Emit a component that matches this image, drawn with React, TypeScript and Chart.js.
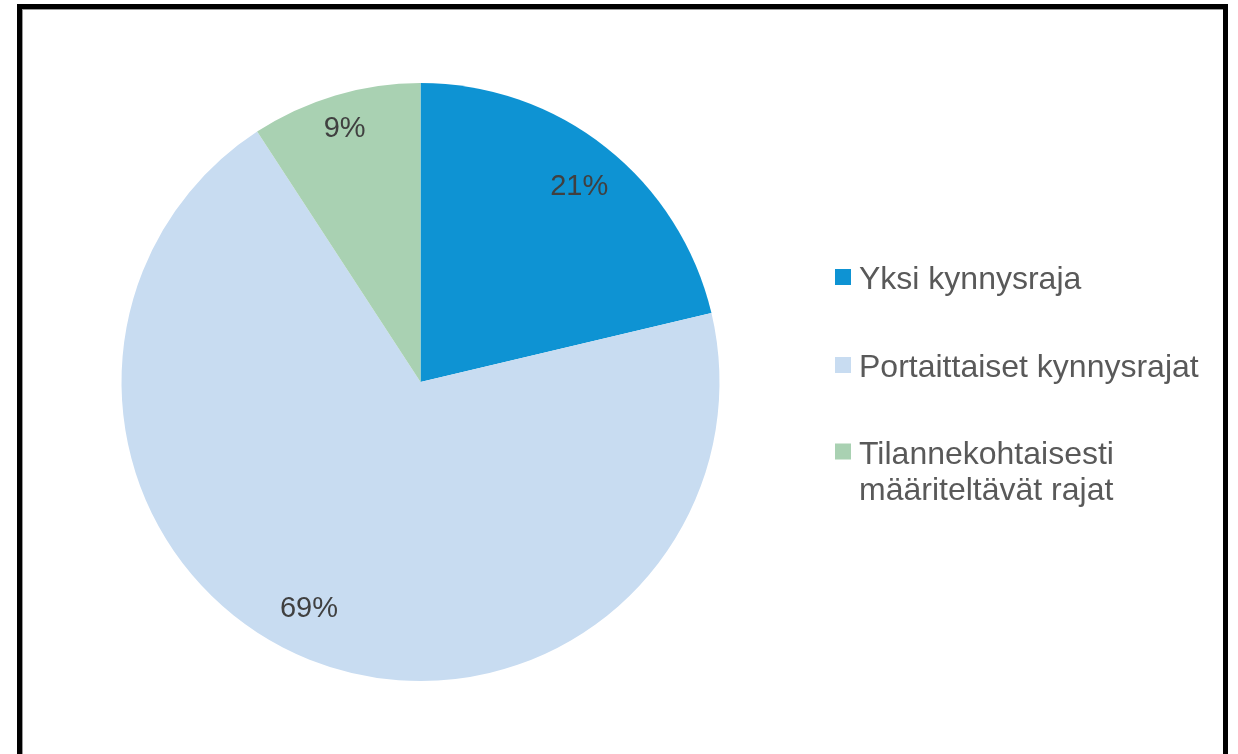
import React, { useEffect, useRef } from "react";
import { Chart, registerables } from "chart.js";

Chart.register(...registerables);

const categories: string[][] = [
  ["Yksi kynnysraja"],
  ["Portaittaiset kynnysrajat"],
  ["Tilannekohtaisesti", "määriteltävät rajat"],
];
const values: number[] = [21.3, 69.5, 9.2];
const valueLabels: string[] = ["21%", "69%", "9%"];
const colors: string[] = ["#0E93D3", "#C8DCF1", "#A9D1B2"];

const FONT = '"Liberation Sans", Arial, sans-serif';

const drawPlugin = {
  id: "customDraw",
  afterDraw(chart: any) {
    const ctx = chart.ctx as CanvasRenderingContext2D;
    const meta = chart.getDatasetMeta(0);
    ctx.save();
    // data labels
    ctx.font = `29px ${FONT}`;
    ctx.fillStyle = "#404040";
    ctx.textAlign = "center";
    ctx.textBaseline = "middle";
    const radFrac = [0.845, 0.84, 0.89];
    const angShift = [0.01, 0.08, 0];
    meta.data.forEach((arc: any, i: number) => {
      const { x, y, startAngle, endAngle, outerRadius } = arc.getProps(
        ["x", "y", "startAngle", "endAngle", "outerRadius"],
        true
      );
      const mid = (startAngle + endAngle) / 2 + angShift[i];
      const r = outerRadius * radFrac[i];
      ctx.fillText(valueLabels[i], x + Math.cos(mid) * r, y + Math.sin(mid) * r + 2);
    });
    // legend
    ctx.textAlign = "left";
    ctx.textBaseline = "alphabetic";
    ctx.font = `32px ${FONT}`;
    const baselines = [289, 377, 463.5];
    const lineH = 36.5;
    categories.forEach((lines, i) => {
      ctx.fillStyle = colors[i];
      ctx.fillRect(835, baselines[i] - 20, 16, 16);
      ctx.fillStyle = "#595959";
      lines.forEach((t, j) => {
        ctx.fillText(t, 859, baselines[i] + j * lineH);
      });
    });
    ctx.restore();
  },
};

export default function App() {
  const ref = useRef<HTMLCanvasElement>(null);
  useEffect(() => {
    if (!ref.current) return;
    const chart = new Chart(ref.current, {
      type: "pie",
      data: {
        labels: categories.map((c) => c.join(" ")),
        datasets: [
          {
            data: values,
            backgroundColor: colors,
            borderWidth: 0,
          },
        ],
      },
      options: {
        animation: false,
        responsive: false,
        events: [],
        layout: { padding: { left: 121.5, right: 518.5, top: 83, bottom: 73 } },
        plugins: {
          legend: { display: false },
          tooltip: { enabled: false },
        },
      },
      plugins: [drawPlugin],
    });
    return () => chart.destroy();
  }, []);
  return (
    <div style={{ position: "fixed", left: 0, top: 0, width: 1238, height: 754, background: "#fff", overflow: "hidden" }}>
      <canvas ref={ref} width={1238} height={754} style={{ position: "absolute", left: 0, top: 0 }} />
      <div
        style={{
          position: "absolute",
          left: 17,
          top: 4,
          width: 1201,
          height: 800,
          border: "5px solid #000",
          boxShadow: "inset 1px 1px 0 #999",
        }}
      />
    </div>
  );
}
